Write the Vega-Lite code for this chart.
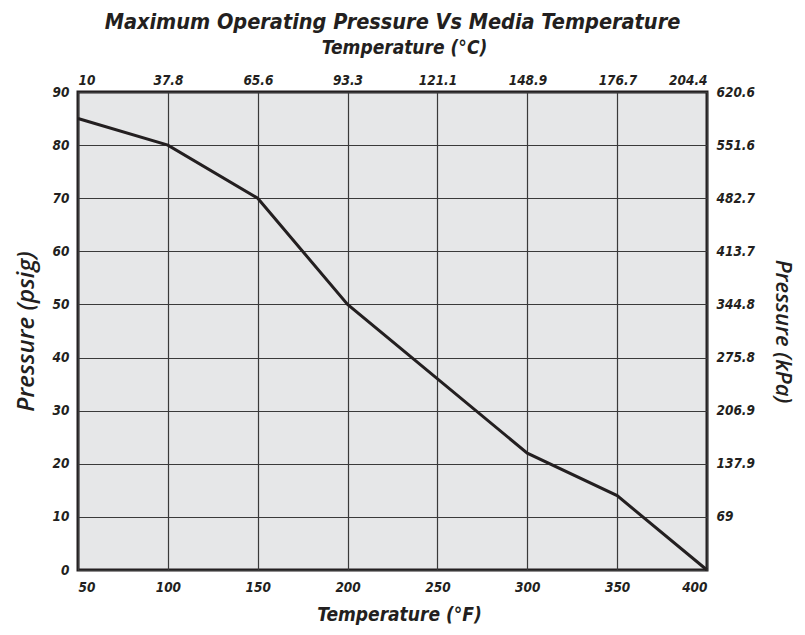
{
  "$schema": "https://vega.github.io/schema/vega-lite/v6.json",
  "width": 629,
  "height": 478,
  "autosize": {"type": "none"},
  "padding": {"left": 78, "top": 92, "right": 98, "bottom": 65},
  "background": "white",
  "config": {
    "font": "DejaVu Sans Condensed, sans-serif",
    "view": {"fill": "#e6e7e8", "stroke": "#231f20", "strokeWidth": 3},
    "axis": {
      "labelFont": "DejaVu Sans Condensed, sans-serif",
      "titleFont": "DejaVu Sans Condensed, sans-serif",
      "labelFontStyle": "italic",
      "labelFontWeight": "bold",
      "titleFontStyle": "italic",
      "titleFontWeight": "bold",
      "labelFontSize": 13.5,
      "titleFontSize": 19,
      "labelColor": "#231f20",
      "titleColor": "#231f20",
      "ticks": false,
      "domain": false,
      "gridColor": "#3a3a3a",
      "gridWidth": 1.2,
      "gridOpacity": 1
    }
  },
  "title": {
    "text": "Maximum Operating Pressure Vs Media Temperature",
    "font": "DejaVu Sans Condensed, sans-serif",
    "fontSize": 21.5,
    "fontStyle": "italic",
    "fontWeight": "bold",
    "color": "#231f20",
    "anchor": "middle",
    "offset": 5
  },
  "data": {
    "values": [
      {"F": 50, "psig": 85, "C": 10, "kPa": 586.1},
      {"F": 100, "psig": 80, "C": 37.8, "kPa": 551.6},
      {"F": 150, "psig": 70, "C": 65.6, "kPa": 482.7},
      {"F": 200, "psig": 50, "C": 93.3, "kPa": 344.8},
      {"F": 300, "psig": 22, "C": 148.9, "kPa": 151.7},
      {"F": 350, "psig": 14, "C": 176.7, "kPa": 96.5},
      {"F": 400, "psig": 0, "C": 204.4, "kPa": 0}
    ]
  },
  "layer": [
    {
      "mark": {"type": "line", "color": "#231f20", "strokeWidth": 3},
      "encoding": {
        "x": {
          "field": "F",
          "type": "quantitative",
          "scale": {"domain": [50, 400], "nice": false, "zero": false},
          "axis": {
            "orient": "bottom",
            "title": "Temperature (°F)",
            "values": [50, 100, 150, 200, 250, 300, 350, 400],
            "grid": true,
            "labelPadding": 10,
            "titlePadding": 12,
            "titleX": 321
          }
        },
        "y": {
          "field": "psig",
          "type": "quantitative",
          "scale": {"domain": [0, 90], "nice": false},
          "axis": {
            "orient": "left",
            "title": "Pressure (psig)",
            "titleFont": "Open Sans, sans-serif",
            "titleFontWeight": 600,
            "titleFontSize": 24,
            "values": [0, 10, 20, 30, 40, 50, 60, 70, 80, 90],
            "grid": true,
            "labelPadding": 9,
            "titlePadding": 14
          }
        }
      }
    },
    {
      "mark": {"type": "point", "opacity": 0},
      "encoding": {
        "x": {
          "field": "C",
          "type": "quantitative",
          "scale": {"domain": [10, 204.4], "nice": false, "zero": false},
          "axis": {
            "orient": "top",
            "title": "Temperature (°C)",
            "values": [10, 37.8, 65.6, 93.3, 121.1, 148.9, 176.7, 204.4],
            "format": ".4~g",
            "grid": false,
            "labelPadding": 5,
            "titlePadding": 16,
            "titleX": 326
          }
        },
        "y": {
          "field": "kPa",
          "type": "quantitative",
          "scale": {"domain": [0, 620.6], "nice": false},
          "axis": {
            "orient": "right",
            "title": "Pressure (kPa)",
            "titleFont": "Open Sans, sans-serif",
            "titleFontWeight": 600,
            "titleFontSize": 22,
            "values": [69, 137.9, 206.9, 275.8, 344.8, 413.7, 482.7, 551.6, 620.6],
            "format": ".4~g",
            "grid": false,
            "labelPadding": 9,
            "titlePadding": 16
          }
        }
      }
    }
  ],
  "resolve": {
    "scale": {"x": "independent", "y": "independent"},
    "axis": {"x": "independent", "y": "independent"}
  }
}
